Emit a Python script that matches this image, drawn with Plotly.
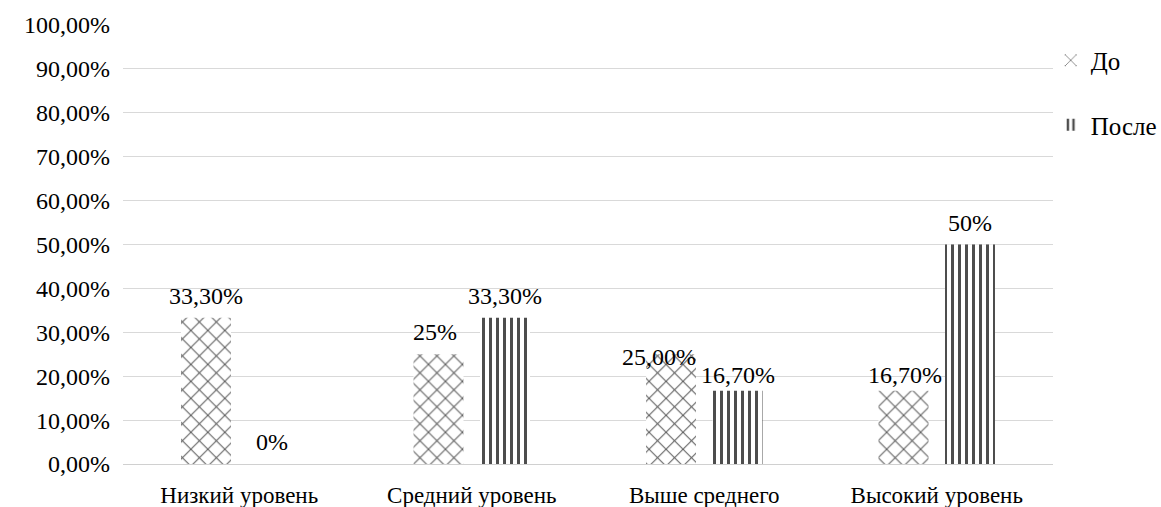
import plotly.graph_objects as go

# Данные диаграммы
categories = ["Низкий уровень", "Средний уровень", "Выше среднего", "Высокий уровень"]
before_values = [0.333, 0.25, 0.25, 0.167]
after_values = [0.0, 0.333, 0.167, 0.50]
before_labels = ["33,30%", "25%", "25,00%", "16,70%"]
after_labels = ["0%", "33,30%", "16,70%", "50%"]

FONT = "Liberation Serif"
FS_NUM = 24     # числовые подписи
FS_CAT = 23     # подписи категорий
SHIFT = 0.143   # смещение центра столбца от центра категории
WIDTH = 0.215   # ширина столбца

x_pos = list(range(len(categories)))

fig = go.Figure()
fig.add_trace(go.Bar(
    x=x_pos, y=before_values, name="До", legendgroup="a",
    width=WIDTH, offset=-SHIFT - WIDTH / 2,
    marker=dict(color="white", line=dict(width=0),
                pattern=dict(shape="x", fgcolor="#595959", bgcolor="white",
                             fgopacity=1, size=12, solidity=0.16,
                             fillmode="overlay")),
))
fig.add_trace(go.Bar(
    x=x_pos, y=after_values, name="После", legendgroup="b",
    width=WIDTH, offset=SHIFT - WIDTH / 2,
    marker=dict(color="white", line=dict(width=0),
                pattern=dict(shape="|", fgcolor="#4d4d4d", bgcolor="white",
                             fgopacity=1, size=7, solidity=0.43,
                             fillmode="overlay")),
))

# Подписи значений: (сдвиг по x в px, сдвиг по y в px)
before_shift = [(0, 22), (-4, 22), (-12, -3), (1, 16)]
after_shift = [(-1, 22), (0, 22), (0, 16), (0, 22)]

annotations = []
for i, (v, t) in enumerate(zip(before_values, before_labels)):
    dx, dy = before_shift[i]
    annotations.append(dict(x=i - SHIFT, y=v, text=t, showarrow=False,
                            xshift=dx, yshift=dy, yanchor="middle",
                            font=dict(family=FONT, size=FS_NUM, color="#000000")))
for i, (v, t) in enumerate(zip(after_values, after_labels)):
    dx, dy = after_shift[i]
    annotations.append(dict(x=i + SHIFT, y=v, text=t, showarrow=False,
                            xshift=dx, yshift=dy, yanchor="middle",
                            font=dict(family=FONT, size=FS_NUM, color="#000000")))

fig.update_layout(
    width=1161, height=507,
    margin=dict(l=123, r=108, t=25, b=43, autoexpand=False),
    paper_bgcolor="white", plot_bgcolor="white",
    separators=", ",
    font=dict(family=FONT, size=FS_NUM, color="#000000"),
    barmode="overlay",
    annotations=annotations,
    legend=dict(xref="container", yref="container", x=0.905, xanchor="left",
                y=0.926, yanchor="top",
                font=dict(family=FONT, size=25), tracegroupgap=29,
                itemwidth=30, bgcolor="rgba(0,0,0,0)"),
    showlegend=True,
)
fig.update_xaxes(
    range=[-0.5, 3.5], tickvals=x_pos, ticktext=categories,
    showgrid=False, showline=True, linecolor="#d0d0d0", linewidth=1,
    ticks="", zeroline=False, ticklabelstandoff=10, automargin=False,
    tickfont=dict(family=FONT, size=FS_CAT),
)
fig.update_yaxes(
    range=[0, 1.0], dtick=0.1, tickformat=".2%",
    showgrid=True, gridcolor="#d9d9d9", gridwidth=1,
    zeroline=False, showline=False, ticks="", ticklabelstandoff=12,
    automargin=False, tickfont=dict(family=FONT, size=FS_NUM),
)

fig.write_html("out.html")
